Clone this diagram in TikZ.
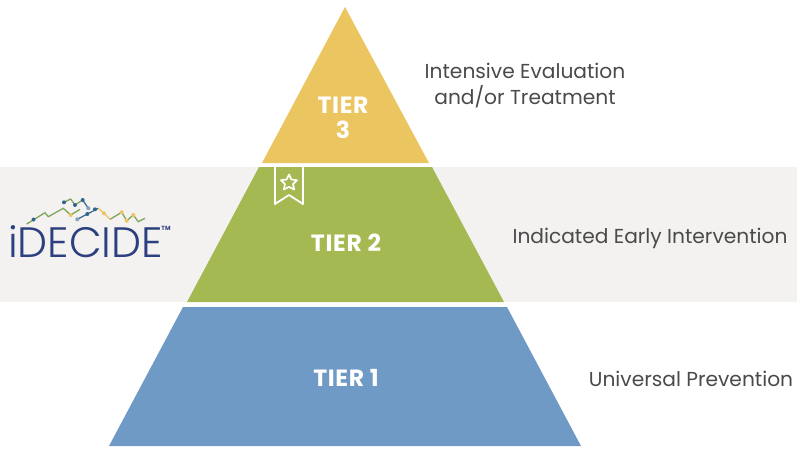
\documentclass[tikz,border=0pt]{standalone}
\usepackage{fontspec}
\setmainfont{Poppins}
\newfontfamily\logofont{Poppins Light}
\usetikzlibrary{positioning}
\definecolor{bandgray}{HTML}{F3F2F0}
\definecolor{tierthree}{HTML}{EBC55F}
\definecolor{tiertwo}{HTML}{A5B952}
\definecolor{tierone}{HTML}{6F9AC6}
\definecolor{logonavy}{HTML}{2C4080}
\definecolor{logogreen}{HTML}{7FA65A}
\definecolor{logoyellow}{HTML}{EBC55F}
\definecolor{logoblue}{HTML}{2F6690}
\definecolor{labelgray}{HTML}{4A4A4A}
\tikzset{
  tierlabel/.style={text=white, font=\fontsize{23.5}{25.5}\selectfont\bfseries\addfontfeatures{LetterSpace=3}, align=center},
  sidelabel/.style={text=labelgray, font=\fontsize{20.2}{26}\selectfont, align=center},
  logoline/.style={logogreen, line width=1.3pt},
  logodot/.style={circle, inner sep=0pt, minimum size=4pt, fill=#1}
}
\begin{document}
\begin{tikzpicture}[x=1pt,y=-1pt]
            \useasboundingbox (0,0) rectangle (797,448);
            % Band
            \fill[bandgray] (0,167) rectangle (797,302);

            % Tiers
            \fill[tierthree] (345,7) -- (429,163) -- (262,163) -- cycle;
            \fill[tiertwo] (259,167) -- (432,167) -- (504,302) -- (187,302) -- cycle;
            \fill[tierone] (183,307) -- (507,307) -- (581,446) -- (109,446) -- cycle;

            % Tier labels
            \node[tierlabel] (tier3) at (343,118) {TIER\\3};
            \node[tierlabel] (tier2) at (346,243) {TIER 2};
            \node[tierlabel] (tier1) at (346,378) {TIER 1};

            % Side labels
            \node[sidelabel] (eval) at (525,86) {Intensive Evaluation\\and/or Treatment};
            \node[sidelabel] (early) at (650,238) {Indicated Early Intervention};
            \node[sidelabel] (universal) at (691,379) {Universal Prevention};

            % Ribbon
            \draw[white, line width=1.8pt, line join=round] (275,167) -- (275,204) -- (289,195) -- (303,204) -- (303,167);
            \draw[white, line width=1.7pt, line join=round] (289,174.5) -- (291.4,179.5) -- (297,180.2) -- (293,184) -- (294.2,189.5) -- (289,186.8) -- (283.8,189.5) -- (285,184) -- (281,180.2) -- (286.6,179.5) -- cycle;

            % Logo
            \node[text=logonavy, inner sep=0pt, font=\logofont\fontsize{42.5}{43}\selectfont] (logo) at (85.5,242) {iDECIDE};
            \node[text=logonavy, inner sep=0pt, font=\fontsize{6}{6}\selectfont\bfseries] (tm) at (166,228.5) {TM};
            \draw[logoline] (26.7,224) -- (45,212.7) -- (48.3,216.7) -- (63.3,208.3) -- (70.7,215) -- (80,209.3);
            \draw[logoline] (64,202.3) -- (70.7,199) -- (75,205) -- (82.7,200);
            \draw[logoline] (110,219.3) -- (121.7,212.3) -- (126.7,220.7) -- (133.3,215) -- (138.3,221.7) -- (145,218.3);
            \draw[logoblue, line width=1.2pt] (77.3,219.3) -- (87.3,214) -- (98.3,208.3);
            \draw[logoblue, line width=1.2pt] (82.7,200) -- (88.3,208.3);
            \draw[logoyellow, line width=1.3pt] (98.3,208.3) -- (104,213.3) -- (110,219.3);
            \node[logodot=logoblue] (dot1) at (33.5,219.5) {};
            \node[logodot=logoyellow] (dot2) at (70.7,215) {};
            \node[logodot=logoblue] (dot3) at (64,202.3) {};
            \node[logodot=logoblue] (dot4) at (75,205) {};
            \node[logodot=logoblue] (dot5) at (82.7,200) {};
            \node[logodot=logoblue!60] (dot6) at (88.3,208.3) {};
            \node[logodot=logoblue!60] (dot7) at (77.3,219.3) {};
            \node[logodot=logoblue] (dot8) at (87.3,214) {};
            \node[logodot=logoblue] (dot9) at (95,209.3) {};
            \node[logodot=logoyellow] (dot10) at (104,213.3) {};
            \node[logodot=logoyellow] (dot11) at (121.7,212.3) {};
            \node[logodot=logoyellow] (dot12) at (126.7,220.7) {};
            \node[logodot=logoyellow] (dot13) at (133.3,215) {};
\end{tikzpicture}
\end{document}
